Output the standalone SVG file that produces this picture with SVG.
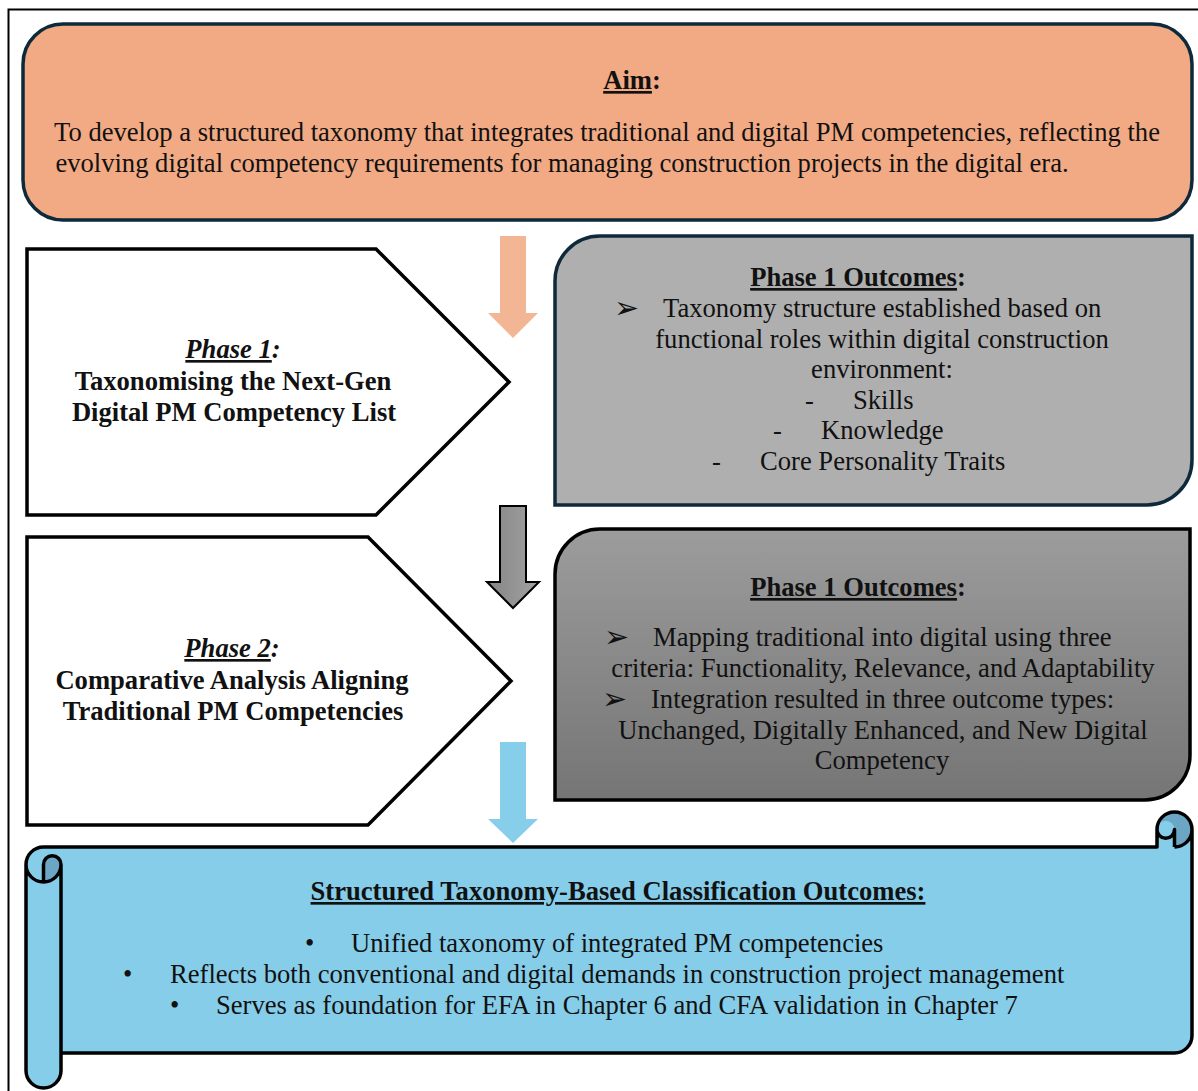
<svg xmlns="http://www.w3.org/2000/svg" width="1198" height="1091" viewBox="0 0 1198 1091">
  <style>
    text { font-family: "Liberation Serif", "Times New Roman", serif; font-size: 26.6px; fill: #111; }
    .b { font-weight: bold; }
    .c { text-anchor: middle; }
    .u { text-decoration: underline; }
    .navy { stroke: #0e2a3a; stroke-width: 3.5; }
    .blk { stroke: #000; stroke-width: 3.5; }
    .arr { font-family: "DejaVu Sans", sans-serif; font-size: 30px; }
  </style>
  <defs>
    <linearGradient id="gBox" x1="0" y1="0" x2="0" y2="1">
      <stop offset="0" stop-color="#9c9c9c"/>
      <stop offset="1" stop-color="#757575"/>
    </linearGradient>
    <linearGradient id="gArrow" x1="0" y1="0" x2="1" y2="0">
      <stop offset="0" stop-color="#858585"/>
      <stop offset="1" stop-color="#a2a2a2"/>
    </linearGradient>
  </defs>

  <rect width="1198" height="1091" fill="#fff"/>
  <!-- page frame -->
  <rect x="8.5" y="9.5" width="1220" height="1120" fill="none" stroke="#000" stroke-width="2"/>

  <!-- aim -->
  <g id="aim">
    <rect x="23" y="24" width="1169" height="196" rx="40" ry="40" fill="#f1aa84" class="navy"/>
    <text x="632" y="89" class="b c"><tspan class="u">Aim</tspan>:</text>
    <text x="607" y="141" class="c">To develop a structured taxonomy that integrates traditional and digital PM competencies, reflecting the</text>
    <text x="562" y="172" class="c">evolving digital competency requirements for managing construction projects in the digital era.</text>
  </g>

  <!-- phase 1 -->
  <g id="phase1">
    <path d="M27,249 L376,249 L509,382 L376,515 L27,515 Z" fill="#fff" class="blk"/>
    <text x="233" y="358" class="b c" font-style="italic"><tspan class="u">Phase 1</tspan>:</text>
    <text x="233" y="390" class="b c">Taxonomising the Next-Gen</text>
    <text x="234" y="421" class="b c">Digital PM Competency List</text>
  </g>

  <g id="phase1-outcomes">
    <path d="M600,236 L1192,236 L1192,460 A45,45 0 0 1 1147,505 L555,505 L555,281 A45,45 0 0 1 600,236 Z" fill="#afafaf" class="navy"/>
    <text x="858" y="286" class="b c"><tspan class="u">Phase 1 Outcomes</tspan>:</text>
    <text x="614" y="318" class="arr">➢</text>
    <text x="663" y="317">Taxonomy structure established based on</text>
    <text x="882" y="348" class="c">functional roles within digital construction</text>
    <text x="882" y="378" class="c">environment:</text>
    <text x="805" y="409">-</text>
    <text x="853" y="409">Skills</text>
    <text x="773" y="439">-</text>
    <text x="821" y="439">Knowledge</text>
    <text x="712" y="470">-</text>
    <text x="760" y="470">Core Personality Traits</text>
  </g>

  <!-- phase 2 -->
  <g id="phase2">
    <path d="M27,537 L368,537 L511,681 L368,825 L27,825 Z" fill="#fff" class="blk"/>
    <text x="232" y="657" class="b c" font-style="italic"><tspan class="u">Phase 2</tspan>:</text>
    <text x="232" y="689" class="b c">Comparative Analysis Aligning</text>
    <text x="233" y="720" class="b c">Traditional PM Competencies</text>
  </g>

  <g id="phase2-outcomes">
    <path d="M600,529 L1190,529 L1190,755 A45,45 0 0 1 1145,800 L555,800 L555,574 A45,45 0 0 1 600,529 Z" fill="url(#gBox)" class="blk"/>
    <text x="858" y="596" class="b c"><tspan class="u">Phase 1 Outcomes</tspan>:</text>
    <text x="604" y="647" class="arr">➢</text>
    <text x="653" y="646">Mapping traditional into digital using three</text>
    <text x="883" y="677" class="c">criteria: Functionality, Relevance, and Adaptability</text>
    <text x="602" y="709" class="arr">➢</text>
    <text x="651" y="708">Integration resulted in three outcome types:</text>
    <text x="883" y="739" class="c">Unchanged, Digitally Enhanced, and New Digital</text>
    <text x="882" y="769" class="c">Competency</text>
  </g>

  <!-- connectors -->
  <g id="connectors">
    <path d="M500,236 L526,236 L526,313 L538,313 L513,338 L488,313 L500,313 Z" fill="#f3b694"/>
    <path d="M500,506 L526,506 L526,582 L539,582 L513,608 L487,582 L500,582 Z" fill="url(#gArrow)" stroke="#000" stroke-width="2" stroke-linejoin="miter"/>
    <path d="M500,742 L526,742 L526,819 L538,819 L513,843 L488,819 L500,819 Z" fill="#87ceeb"/>
  </g>

  <!-- classification outcomes (scroll) -->
  <g id="outcomes">
    <path d="M1192,829.5 L1192,1035.5 A17.5,17.5 0 0 1 1174.5,1053 L61,1053 L61,1070.5 A17.5,17.5 0 0 1 43.5,1088 A17.5,17.5 0 0 1 26,1070.5 L26,864.5 A17.5,17.5 0 0 1 43.5,847 L1157,847 L1157,829.5 A17.5,17.5 0 0 1 1192,829.5 Z" fill="#86cdea"/>
    <path d="M43.5,882 A17.5,17.5 0 0 0 61,864.5 A8.75,8.75 0 0 0 43.5,864.5 Z" fill="#6ba7c4"/>
    <path d="M1174.5,847 A17.5,17.5 0 1 0 1157,829.5 A8.75,8.75 0 0 1 1174.5,829.5 Z" fill="#6ba7c4"/>
    <path d="M26,864.5 A17.5,17.5 0 0 1 43.5,847 L1157,847 L1157,829.5 A17.5,17.5 0 0 1 1192,829.5 L1192,1035.5 A17.5,17.5 0 0 1 1174.5,1053 L61,1053 L61,1070.5 A17.5,17.5 0 0 1 26,1070.5 Z M1174.5,847 A17.5,17.5 0 0 0 1192,829.5 M1174.5,847 L1174.5,829.5 A8.75,8.75 0 0 1 1157,829.5 M43.5,882 L43.5,864.5 A8.75,8.75 0 0 1 61,864.5 A17.5,17.5 0 0 1 26,864.5 M61,864.5 L61,1053" fill="none" stroke="#000" stroke-width="3.5" stroke-linejoin="round"/>
    <text x="618" y="900" class="b c"><tspan class="u">Structured Taxonomy-Based Classification Outcomes:</tspan></text>
    <text x="305" y="952">•</text>
    <text x="351" y="952">Unified taxonomy of integrated PM competencies</text>
    <text x="123" y="983">•</text>
    <text x="170" y="983">Reflects both conventional and digital demands in construction project management</text>
    <text x="170" y="1014">•</text>
    <text x="216" y="1014">Serves as foundation for EFA in Chapter 6 and CFA validation in Chapter 7</text>
  </g>
</svg>
